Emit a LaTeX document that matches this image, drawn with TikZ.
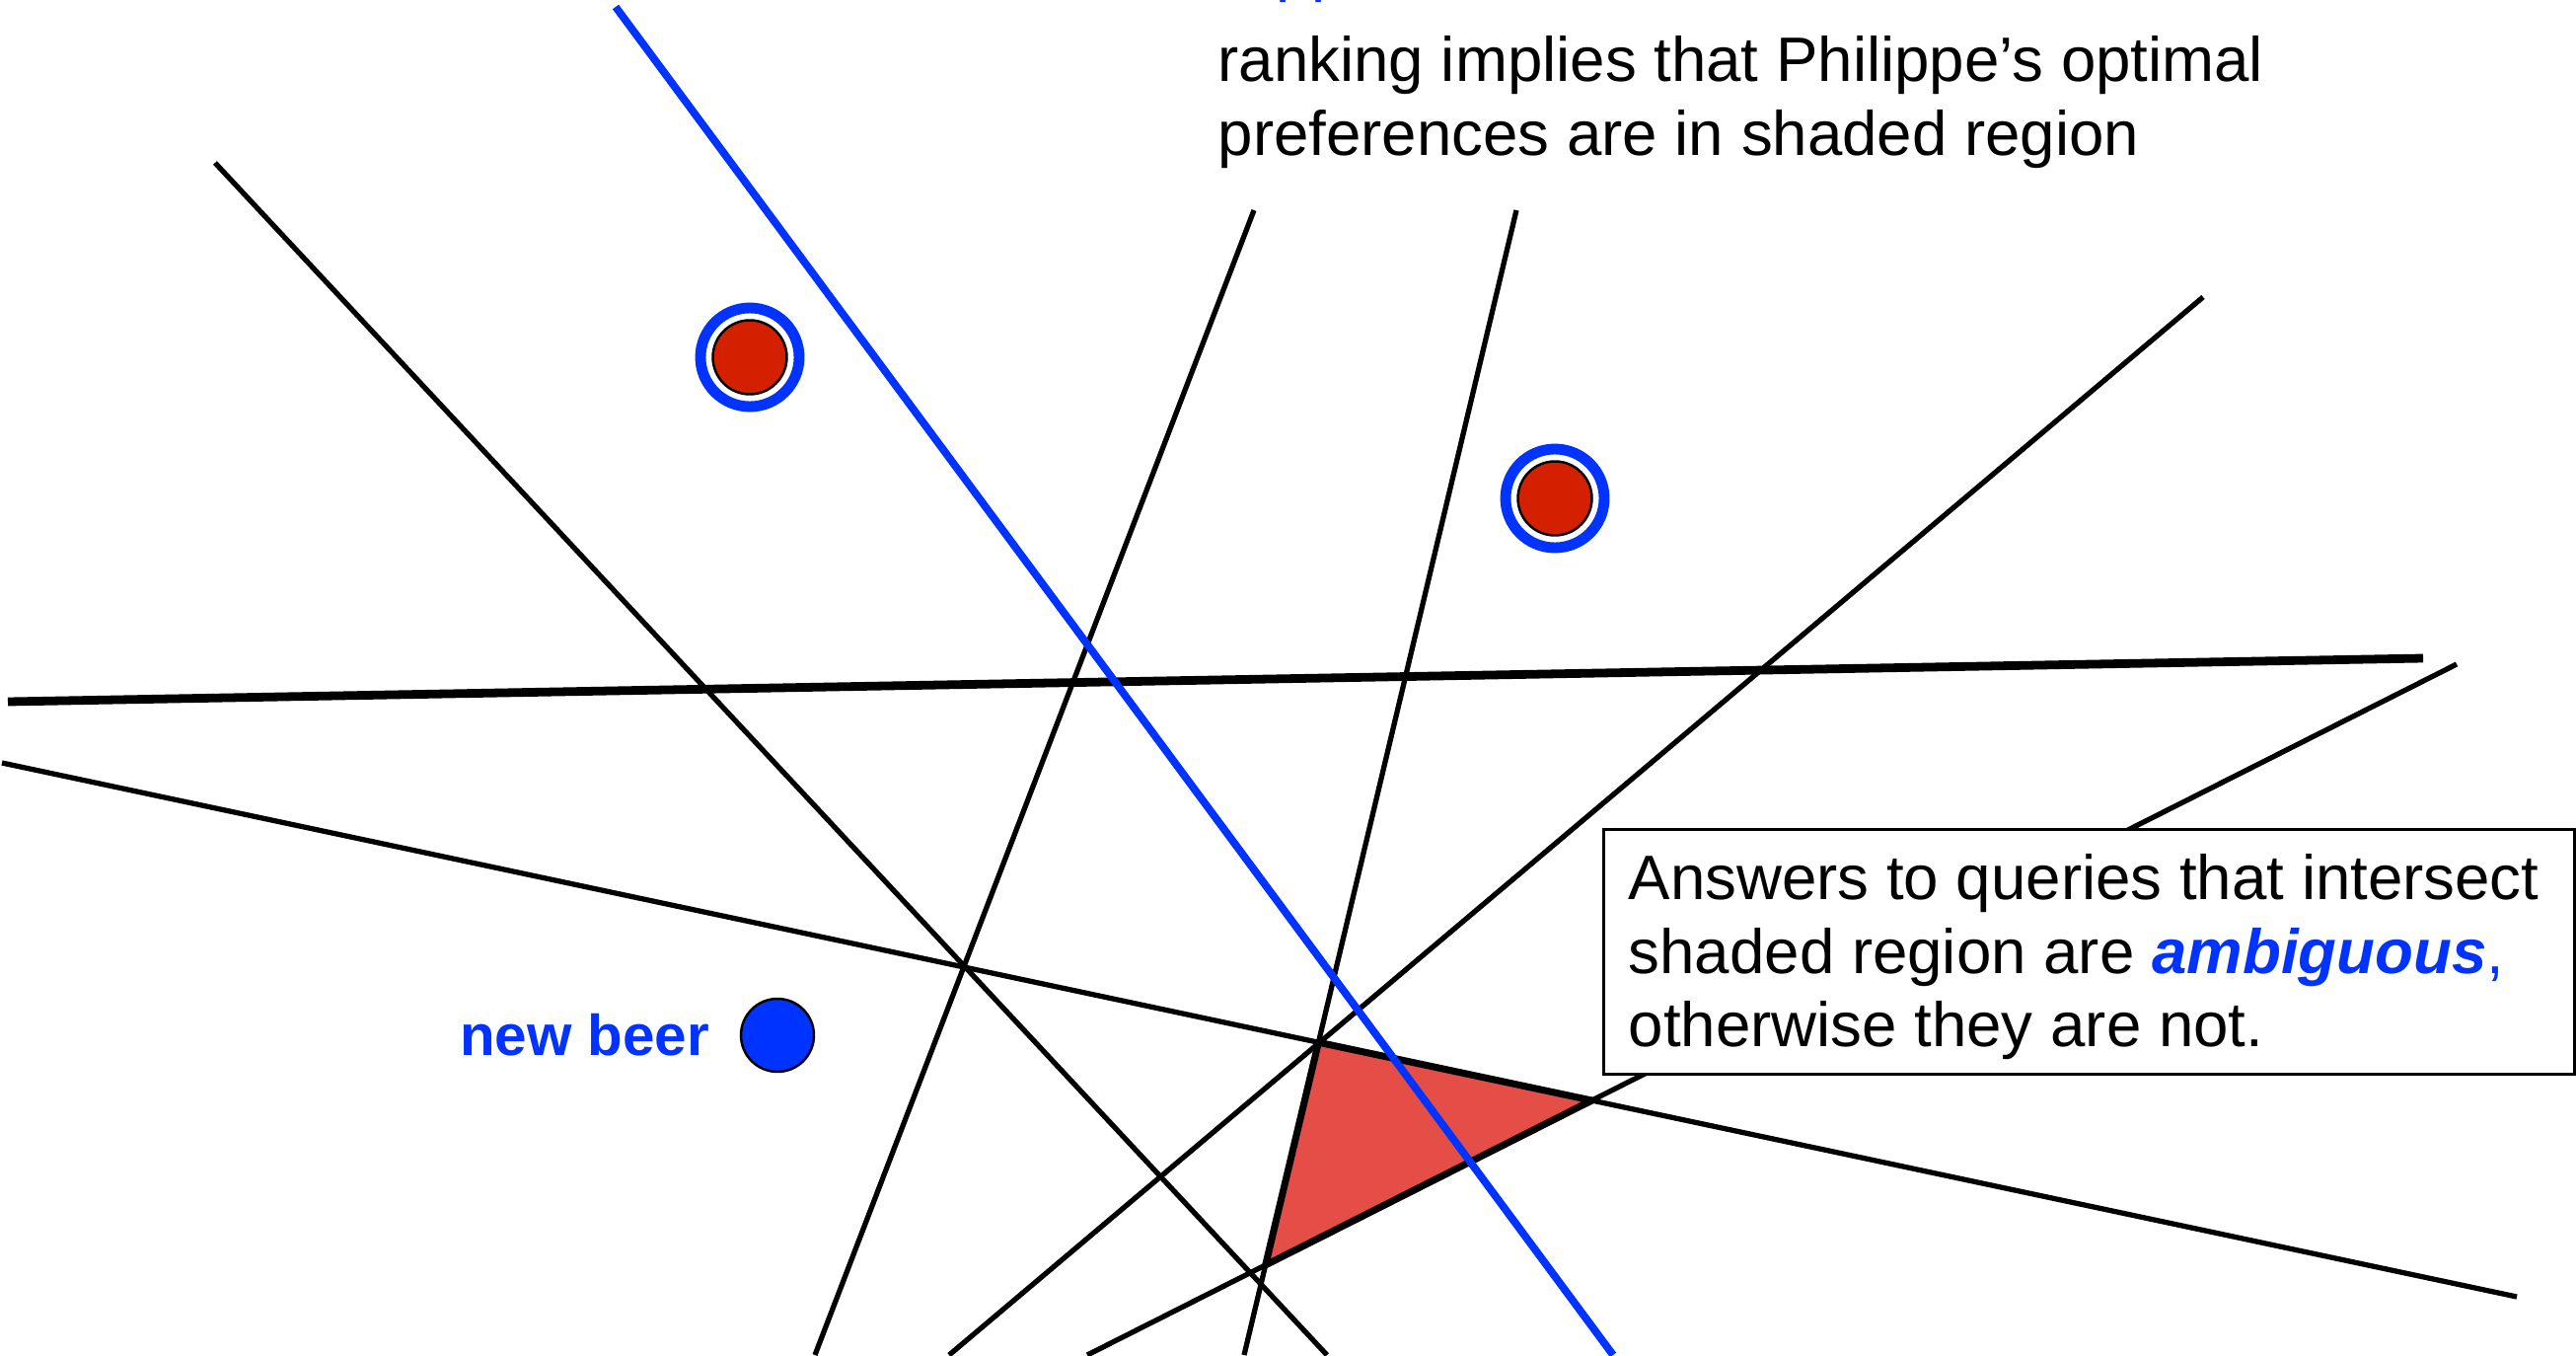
\documentclass[tikz,border=0pt]{standalone}
\usepackage{fontspec}
\setmainfont{Liberation Sans}
\usetikzlibrary{intersections,positioning}

\definecolor{prefblue}{RGB}{0,51,255}
\definecolor{beerred}{RGB}{213,32,0}
\definecolor{shaded}{RGB}{229,78,70}

\tikzset{
  cut/.style={line width=1.5pt},
  txt/.style={font=\fontsize{18.1}{21}\selectfont, inner sep=0pt},
  ring/.style={circle, draw=prefblue, line width=3.1pt, minimum size=10mm, inner sep=0pt},
  ranked/.style={circle, fill=beerred, draw=black, line width=0.7pt, minimum size=7.5mm, inner sep=0pt},
}

\begin{document}
\begin{tikzpicture}[x=0.1mm,y=-0.1mm]

\useasboundingbox (0,0) rectangle (2611,1373);
\clip (0,0) rectangle (2611,1373);

% End points of the cuts
\coordinate (c1a) at (218,165);   \coordinate (c1b) at (1345,1373);
\coordinate (c3a) at (1271,213);  \coordinate (c3b) at (826,1373);
\coordinate (c4a) at (1537,213);  \coordinate (c4b) at (1261,1373);
\coordinate (c5a) at (2233,301);  \coordinate (c5b) at (962,1373);
\coordinate (c6a) at (8,711);     \coordinate (c6b) at (2456,667);
\coordinate (c7a) at (2,773);     \coordinate (c7b) at (2551,1314);
\coordinate (c8a) at (2490,673);  \coordinate (c8b) at (1102,1373);
\coordinate (qa) at (624,7);      \coordinate (qb) at (1635,1373);

% Shaded region
\path[name path=c4] (c4a) -- (c4b);
\path[name path=c7] (c7a) -- (c7b);
\path[name path=c8] (c8a) -- (c8b);
\path[name intersections={of=c4 and c7, by=ta}];
\path[name intersections={of=c7 and c8, by=tb}];
\path[name intersections={of=c4 and c8, by=tc}];
\filldraw[fill=shaded, line width=2pt, line join=round] (ta) -- (tb) -- (tc) -- cycle;

% Cuts
\draw[cut] (c1a) -- (c1b);
\draw[cut] (c3a) -- (c3b);
\draw[cut] (c4a) -- (c4b);
\draw[cut] (c5a) -- (c5b);
\draw[line width=2.5pt] (c6a) -- (c6b);
\draw[cut] (c7a) -- (c7b);
\draw[cut] (c8a) -- (c8b);

% Query
\draw[prefblue, line width=2.2pt] (qa) -- (qb);

% Ranked beers
\node[ring] (ringA) at (760,362) {};
\node[ranked] (beerA) at (760,362) {};
\node[ring] (ringB) at (1576,505) {};
\node[ranked] (beerB) at (1576,505) {};

% New beer
\node[circle, fill=prefblue, draw=black, line width=0.7pt, minimum size=7.4mm, inner sep=0pt] (newbeer) at (788,1049) {};
\node[txt, font=\fontsize{16.6}{20}\selectfont\bfseries, text=prefblue, left=3mm of newbeer] (newbeerlabel) {new beer};

% Top note
\node[txt, text=prefblue, anchor=base west] (topcut) at (1293,-10) {pp};
\node[txt, anchor=base west] (top1) at (1234,83) {ranking implies that Philippe’s optimal};
\node[txt, anchor=base west] (top2) at (1234,158) {preferences are in shaded region};

% Answer box
\node[draw, fill=white, line width=0.8pt, anchor=north west, minimum width=98.4mm, minimum height=24.8mm, inner sep=0pt] (note) at (1624,839) {};
\node[txt, anchor=base west] (note1) at (1650,911) {Answers to queries that intersect};
\node[txt, anchor=base west] (note2) at (1650,986) {shaded region are \textcolor{prefblue}{\textbf{\textit{ambiguous}},}};
\node[txt, anchor=base west] (note3) at (1650,1060) {otherwise they are not.};

\end{tikzpicture}
\end{document}
